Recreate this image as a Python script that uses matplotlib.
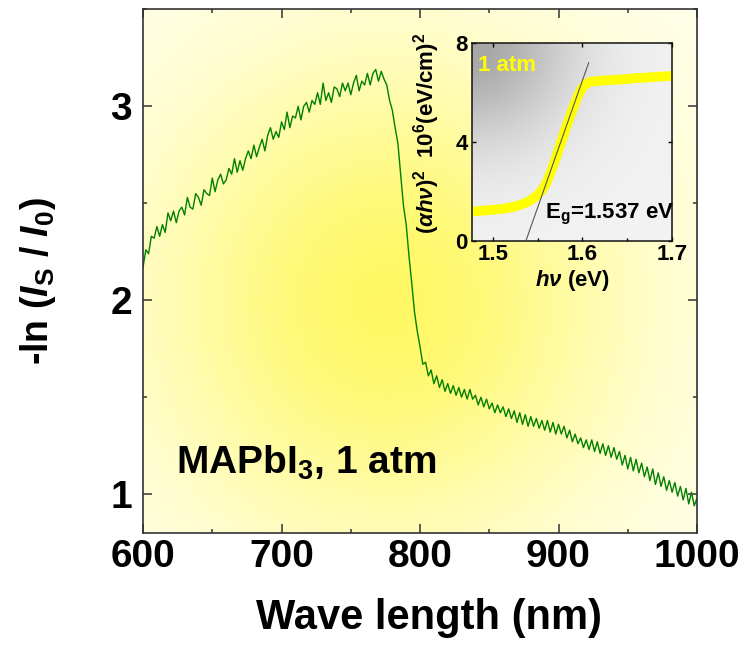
import numpy as np
import matplotlib.pyplot as plt
from matplotlib.ticker import MultipleLocator

plt.rcParams['font.family'] = 'Liberation Sans'
plt.rcParams['font.weight'] = 'bold'
plt.rcParams['axes.labelweight'] = 'bold'
plt.rcParams['mathtext.fontset'] = 'custom'
plt.rcParams['mathtext.rm'] = 'Liberation Sans:bold'
plt.rcParams['mathtext.it'] = 'Liberation Sans:italic:bold'
plt.rcParams['mathtext.bf'] = 'Liberation Sans:bold'

# -ln(Is/I0) spectrum, sampled every 2 nm from 600 to 1000 nm
wl_start, wl_stop, wl_step = 600, 1000, 2
absorbance = [
    2.17, 2.26, 2.24, 2.33, 2.32, 2.38, 2.33, 2.39, 2.35, 2.45,
    2.41, 2.46, 2.40, 2.46, 2.48, 2.44, 2.53, 2.48, 2.47, 2.55,
    2.53, 2.49, 2.57, 2.55, 2.54, 2.63, 2.56, 2.62, 2.65, 2.60,
    2.62, 2.68, 2.65, 2.73, 2.66, 2.72, 2.67, 2.73, 2.77, 2.73,
    2.80, 2.74, 2.79, 2.83, 2.77, 2.85, 2.89, 2.83, 2.87, 2.84,
    2.92, 2.88, 2.97, 2.89, 2.95, 2.94, 3.00, 2.93, 3.00, 3.02,
    2.97, 3.03, 3.01, 3.07, 3.01, 3.12, 3.03, 3.07, 3.02, 3.10,
    3.09, 3.05, 3.12, 3.08, 3.12, 3.06, 3.12, 3.16, 3.08, 3.13,
    3.11, 3.17, 3.11, 3.17, 3.19, 3.13, 3.18, 3.14, 3.11, 3.03,
    2.98, 2.89, 2.81, 2.65, 2.49, 2.39, 2.23, 2.09, 1.94, 1.84,
    1.76, 1.67, 1.68, 1.61, 1.64, 1.57, 1.61, 1.55, 1.59, 1.53,
    1.57, 1.52, 1.56, 1.51, 1.55, 1.50, 1.54, 1.49, 1.54, 1.49,
    1.51, 1.46, 1.50, 1.45, 1.49, 1.44, 1.47, 1.42, 1.46, 1.42,
    1.45, 1.40, 1.44, 1.39, 1.43, 1.37, 1.42, 1.36, 1.41, 1.35,
    1.40, 1.35, 1.39, 1.34, 1.38, 1.33, 1.38, 1.32, 1.37, 1.31,
    1.36, 1.31, 1.35, 1.29, 1.33, 1.27, 1.31, 1.26, 1.29, 1.24,
    1.28, 1.23, 1.28, 1.22, 1.27, 1.21, 1.26, 1.20, 1.25, 1.19,
    1.24, 1.18, 1.22, 1.15, 1.20, 1.13, 1.19, 1.12, 1.18, 1.11,
    1.16, 1.09, 1.14, 1.07, 1.13, 1.05, 1.11, 1.04, 1.09, 1.02,
    1.07, 1.01, 1.06, 0.99, 1.04, 0.97, 1.03, 0.95, 1.01, 0.94,
    0.98,
]
wavelength = np.arange(wl_start, wl_stop + 1, wl_step)

# Tauc plot (alpha*h*nu)^2 in 10^6 (eV/cm)^2
photon_energy = [1.480, 1.485, 1.490, 1.495, 1.500, 1.505, 1.510, 1.515,
                 1.520, 1.525, 1.530, 1.535, 1.540, 1.545, 1.550, 1.555,
                 1.560, 1.565, 1.570, 1.575, 1.580, 1.585, 1.590, 1.595,
                 1.600, 1.605, 1.610, 1.620, 1.630, 1.640, 1.650, 1.660,
                 1.670, 1.680, 1.690, 1.700]
tauc = [1.20, 1.21, 1.23, 1.25, 1.26, 1.28, 1.30, 1.32,
        1.36, 1.40, 1.45, 1.52, 1.60, 1.72, 1.86, 2.05,
        2.35, 2.80, 3.30, 3.85, 4.40, 4.90, 5.40, 5.85,
        6.20, 6.38, 6.44, 6.48, 6.50, 6.52, 6.55, 6.58,
        6.60, 6.63, 6.65, 6.67]

# linear fit of the absorption edge
band_gap = 1.537
fit_energy = [band_gap, 1.607]
fit_value = [0.0, 7.2]

fig = plt.figure(figsize=(7.45, 6.46), dpi=100)
ax = fig.add_axes([0.192, 0.175, 0.7436, 0.8105])

xlim = (600, 1000)
ylim = (0.8, 3.5)

# yellow glow behind the spectrum
u, v = np.meshgrid(np.linspace(0, 1, 300), np.linspace(0, 1, 300))
glow = np.exp(-(((u - 0.44) / 0.42) ** 2 + ((v - 0.44) / 0.46) ** 2))
edge = np.array([255, 255, 238]) / 255
centre = np.array([255, 248, 100]) / 255
bg = edge + (centre - edge) * glow[..., None]
ax.imshow(bg, extent=(*xlim, *ylim), origin='lower', aspect='auto',
          interpolation='bilinear', zorder=0)

ax.plot(wavelength, absorbance, color='#008000', lw=1.0, zorder=2)

ax.set_xlim(*xlim)
ax.set_ylim(*ylim)
ax.xaxis.set_major_locator(MultipleLocator(100))
ax.xaxis.set_minor_locator(MultipleLocator(50))
ax.yaxis.set_major_locator(MultipleLocator(1))
ax.yaxis.set_minor_locator(MultipleLocator(0.5))
ax.tick_params(which='both', direction='in', top=True, right=True,
               color='#333333', width=1.1)
ax.tick_params(which='major', length=6.5, labelsize=28)
ax.tick_params(which='minor', length=3)
ax.tick_params(axis='x', pad=4)
ax.tick_params(axis='y', pad=8)
for s in ax.spines.values():
    s.set_color('#333333')
    s.set_linewidth(1.2)

ax.set_xlabel('Wave length (nm)', fontsize=30, labelpad=17)
ax.xaxis.set_label_coords(0.516, -0.125)
ax.xaxis.label.set_va('top')
ax.set_ylabel(r'-ln ($\mathit{I}_{\mathrm{S}}$ / $\mathit{I}_{\mathit{0}}$)',
              fontsize=27)
ax.yaxis.set_label_coords(-0.153, 0.48)

ax.text(624, 1.108, r'MAPbI$_{3}$, 1 atm', fontsize=28, va='baseline',
        ha='left', zorder=3)

# inset: Tauc plot
ins = fig.add_axes([0.6336, 0.6269, 0.2685, 0.3065])
ixlim = (1.477, 1.7)
iylim = (0, 8)
d = np.sqrt(u ** 2 + (1 - v) ** 2)
gray = 0.95 - 0.30 * np.exp(-(d / 0.5) ** 2)
ins.imshow(np.dstack([gray, gray, gray]), extent=(*ixlim, *iylim),
           origin='lower', aspect='auto', interpolation='bilinear', zorder=0)

ins.plot(photon_energy, tauc, color='#FFFF00', lw=7, zorder=2)
ins.plot(fit_energy, fit_value, color='#555555', lw=0.8, zorder=3)

ins.set_xlim(*ixlim)
ins.set_ylim(*iylim)
ins.xaxis.set_major_locator(MultipleLocator(0.1))
ins.xaxis.set_minor_locator(MultipleLocator(0.05))
ins.yaxis.set_major_locator(MultipleLocator(4))
ins.tick_params(which='both', direction='in', top=True, right=True,
                width=1.0)
ins.tick_params(which='major', length=3, labelsize=16)
ins.tick_params(which='minor', length=2, top=False)
ins.tick_params(axis='x', pad=2)
ins.tick_params(axis='y', pad=3)
for s in ins.spines.values():
    s.set_color('#111111')
    s.set_linewidth(1.1)

ins.set_xlabel(r'$\mathit{h\nu}$ (eV)', fontsize=16, labelpad=2)
ins.set_ylabel(r'$(\mathit{\alpha h\nu})^2$  10$^6$(eV/cm)$^2$', fontsize=16)
ins.yaxis.set_label_coords(-0.15, 0.545)

ins.text(1.484, 7.1, '1 atm', color='#FFFF00', fontsize=16, va='center',
         ha='left')
ins.text(1.558, 0.9, r'E$_{\mathrm{g}}$=1.537 eV', fontsize=16,
         va='baseline', ha='left', zorder=4)

fig.savefig('out.png', dpi=100)
